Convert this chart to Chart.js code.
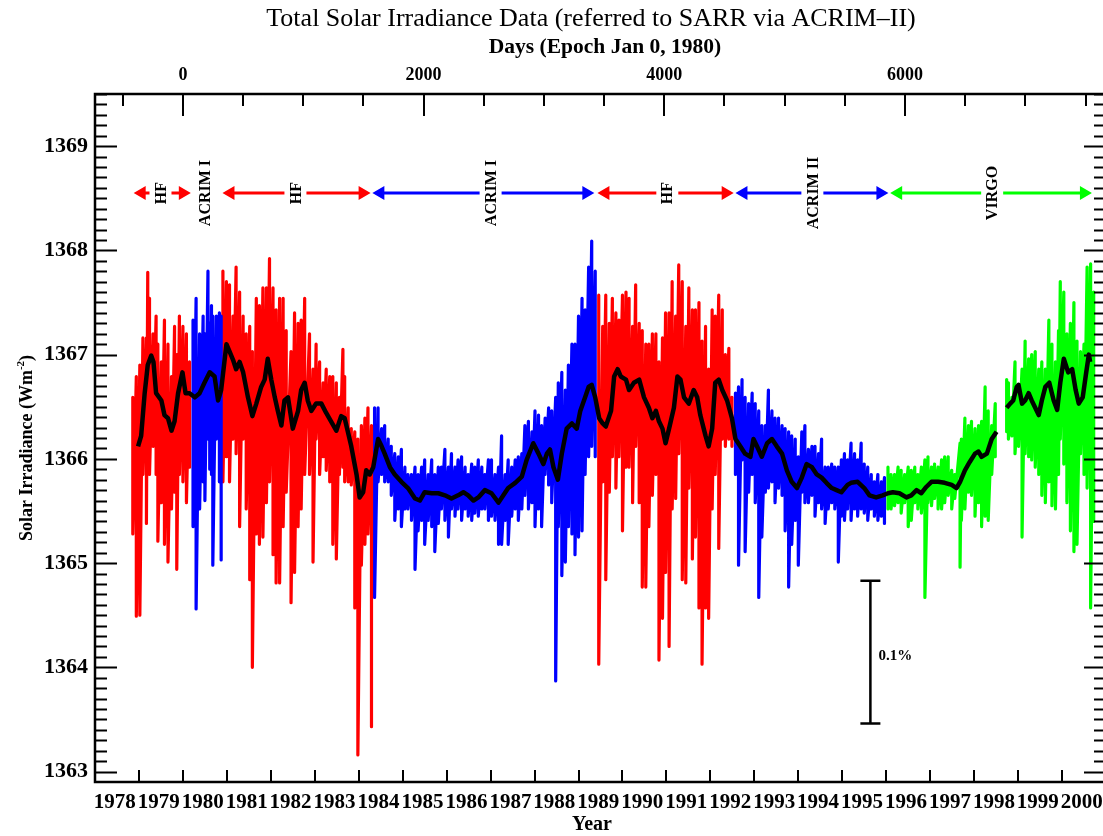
<!DOCTYPE html>
<html>
<head>
<meta charset="utf-8">
<script src="https://cdn.jsdelivr.net/npm/chart.js@4.4.1/dist/chart.umd.min.js"></script>
<style>
html, body { margin: 0; padding: 0; background: #fff; overflow: hidden; }
canvas { display: block; }
</style>
</head>
<body>
<canvas id="tsiChart" width="1120" height="836" style="width:1120px;height:836px"></canvas>
<script>
// tick labels
const yearTicks = [1978, 1979, 1980, 1981, 1982, 1983, 1984, 1985, 1986, 1987, 1988, 1989,
  1990, 1991, 1992, 1993, 1994, 1995, 1996, 1997, 1998, 1999, 2000];
const dayTicks = [0, 2000, 4000, 6000];
const irradianceTicks = [1363, 1364, 1365, 1366, 1367, 1368, 1369];

// which instrument each stretch of daily data comes from (start year of stretch)
const segmentStart = [1978.8, 1980.2, 1980.89, 1984.32, 1989.42, 1992.53, 1996.0];
const segmentInstrument = ["HF", "ACRIM I", "HF", "ACRIM I", "HF", "ACRIM II", "VIRGO"];

// daily values: upper / lower extent of the scatter
const obsYears = [
  1978.86, 1978.94, 1979.02, 1979.09, 1979.17, 1979.20, 1979.24, 1979.32, 1979.39, 1979.43,
  1979.51, 1979.58, 1979.66, 1979.74, 1979.81, 1979.86, 1979.92, 1980.00, 1980.08, 1980.15,
  1980.23, 1980.30, 1980.38, 1980.46, 1980.50, 1980.57, 1980.61, 1980.65, 1980.68, 1980.76,
  1980.83, 1980.87, 1980.91, 1980.99, 1981.06, 1981.14, 1981.21, 1981.29, 1981.37, 1981.44,
  1981.52, 1981.58, 1981.67, 1981.74, 1981.82, 1981.90, 1981.97, 1982.05, 1982.12, 1982.20,
  1982.28, 1982.35, 1982.46, 1982.54, 1982.62, 1982.69, 1982.77, 1982.88, 1982.96, 1983.03,
  1983.11, 1983.19, 1983.26, 1983.34, 1983.41, 1983.49, 1983.56, 1983.64, 1983.68, 1983.76,
  1983.83, 1983.91, 1983.98, 1984.06, 1984.14, 1984.21, 1984.29, 1984.36, 1984.44, 1984.52,
  1984.59, 1984.67, 1984.74, 1984.82, 1984.90, 1984.97, 1985.05, 1985.12, 1985.20, 1985.28,
  1985.35, 1985.43, 1985.50, 1985.58, 1985.66, 1985.73, 1985.81, 1985.88, 1985.96, 1986.04,
  1986.11, 1986.19, 1986.26, 1986.34, 1986.42, 1986.49, 1986.57, 1986.64, 1986.72, 1986.80,
  1986.87, 1986.95, 1987.02, 1987.10, 1987.18, 1987.25, 1987.33, 1987.40, 1987.48, 1987.56,
  1987.63, 1987.71, 1987.78, 1987.86, 1987.94, 1988.01, 1988.09, 1988.16, 1988.24, 1988.32,
  1988.39, 1988.48, 1988.54, 1988.62, 1988.70, 1988.77, 1988.85, 1988.92, 1989.00, 1989.08,
  1989.15, 1989.23, 1989.30, 1989.38, 1989.46, 1989.55, 1989.62, 1989.70, 1989.77, 1989.85,
  1989.92, 1990.00, 1990.08, 1990.15, 1990.23, 1990.30, 1990.38, 1990.45, 1990.53, 1990.60,
  1990.68, 1990.76, 1990.83, 1990.91, 1990.98, 1991.06, 1991.13, 1991.21, 1991.28, 1991.36,
  1991.44, 1991.51, 1991.59, 1991.66, 1991.74, 1991.81, 1991.89, 1991.96, 1992.04, 1992.11,
  1992.19, 1992.27, 1992.34, 1992.42, 1992.49, 1992.57, 1992.64, 1992.72, 1992.79, 1992.87,
  1992.95, 1993.02, 1993.10, 1993.17, 1993.25, 1993.32, 1993.40, 1993.47, 1993.55, 1993.63,
  1993.70, 1993.78, 1993.85, 1993.93, 1994.00, 1994.08, 1994.15, 1994.23, 1994.31, 1994.38,
  1994.46, 1994.53, 1994.61, 1994.68, 1994.76, 1994.83, 1994.91, 1994.98, 1995.05, 1995.12,
  1995.20, 1995.28, 1995.35, 1995.43, 1995.50, 1995.58, 1995.66, 1995.73, 1995.81, 1995.89,
  1995.96, 1996.04, 1996.11, 1996.19, 1996.27, 1996.34, 1996.42, 1996.50, 1996.57, 1996.65,
  1996.72, 1996.80, 1996.88, 1996.95, 1997.03, 1997.10, 1997.18, 1997.26, 1997.33, 1997.41,
  1997.49, 1997.56, 1997.68, 1997.71, 1997.79, 1997.87, 1997.94, 1998.02, 1998.10, 1998.17,
  1998.25, 1998.32, 1998.40, 1998.48, 1998.60, 1998.74, 1998.78, 1998.86, 1998.93, 1999.01,
  1999.09, 1999.16, 1999.24, 1999.31, 1999.39, 1999.47, 1999.54, 1999.62, 1999.70, 1999.77,
  1999.85, 1999.92, 1999.96, 2000.04, 2000.11, 2000.19, 2000.27, 2000.34, 2000.42, 2000.50,
  2000.57, 2000.65, 2000.72
];
const obsHigh = [
  1366.59, 1366.79, 1366.90, 1367.16, 1367.16, 1367.79, 1367.54, 1367.20, 1367.37, 1367.10,
  1366.93, 1367.33, 1367.10, 1366.79, 1367.27, 1367.00, 1367.37, 1367.27, 1367.20, 1366.93,
  1367.33, 1367.54, 1367.20, 1367.37, 1367.20, 1367.80, 1367.30, 1367.47, 1367.37, 1367.37,
  1367.40, 1367.37, 1367.80, 1367.70, 1367.67, 1367.37, 1367.84, 1367.60, 1367.37, 1367.20,
  1367.27, 1367.03, 1367.54, 1367.47, 1367.64, 1367.64, 1367.92, 1367.64, 1367.43, 1367.54,
  1367.54, 1367.23, 1367.03, 1367.40, 1367.30, 1367.33, 1367.54, 1367.20, 1366.86, 1367.10,
  1366.93, 1366.73, 1366.86, 1366.79, 1366.79, 1366.73, 1366.59, 1367.05, 1366.79, 1366.49,
  1366.29, 1366.26, 1366.19, 1366.32, 1366.39, 1366.49, 1366.32, 1366.49, 1366.49, 1366.29,
  1366.32, 1366.19, 1366.12, 1366.05, 1366.02, 1366.09, 1365.92, 1365.85, 1365.85, 1365.92,
  1365.85, 1365.92, 1365.99, 1365.85, 1365.99, 1365.85, 1365.92, 1365.92, 1366.09, 1365.92,
  1366.05, 1365.92, 1365.99, 1366.02, 1365.92, 1365.85, 1365.95, 1365.92, 1365.99, 1365.92,
  1365.85, 1365.99, 1365.99, 1365.85, 1365.92, 1366.22, 1365.85, 1365.99, 1365.92, 1365.99,
  1366.02, 1366.05, 1366.32, 1366.36, 1366.26, 1366.46, 1366.42, 1366.32, 1366.39, 1366.49,
  1366.46, 1366.59, 1366.73, 1366.83, 1366.66, 1366.90, 1367.10, 1367.10, 1367.37, 1367.54,
  1367.43, 1367.84, 1368.09, 1367.80, 1367.57, 1367.27, 1367.57, 1367.30, 1367.54, 1367.40,
  1367.33, 1367.57, 1367.60, 1367.54, 1367.27, 1367.67, 1367.30, 1367.23, 1367.10, 1367.10,
  1367.20, 1367.20, 1366.93, 1367.16, 1367.40, 1367.40, 1367.70, 1367.37, 1367.86, 1367.70,
  1367.27, 1367.64, 1367.43, 1367.43, 1367.50, 1367.13, 1367.27, 1366.86, 1367.43, 1367.37,
  1367.57, 1367.43, 1367.00, 1367.06, 1366.59, 1366.63, 1366.69, 1366.76, 1366.59, 1366.53,
  1366.63, 1366.53, 1366.46, 1366.32, 1366.32, 1366.66, 1366.46, 1366.39, 1366.39, 1366.32,
  1366.29, 1366.26, 1366.22, 1366.19, 1366.02, 1366.26, 1366.32, 1366.09, 1366.12, 1366.12,
  1366.05, 1366.19, 1365.92, 1365.92, 1365.95, 1365.92, 1365.92, 1365.99, 1366.05, 1365.99,
  1366.15, 1366.05, 1365.99, 1366.15, 1365.95, 1365.92, 1365.85, 1365.78, 1365.85, 1365.78,
  1365.82, 1365.92, 1365.85, 1365.85, 1365.92, 1365.89, 1365.85, 1365.92, 1365.89, 1365.92,
  1365.85, 1365.92, 1365.99, 1366.02, 1365.92, 1365.95, 1365.92, 1365.99, 1366.02, 1366.02,
  1365.89, 1365.85, 1366.15, 1366.19, 1366.39, 1366.32, 1366.36, 1366.29, 1366.32, 1366.36,
  1366.69, 1366.46, 1366.32, 1366.53, null, 1366.76, 1366.73, 1366.59, 1366.93, 1366.63,
  1366.86, 1367.13, 1366.96, 1367.00, 1367.03, 1366.86, 1366.93, 1366.86, 1367.33, 1367.10,
  1366.93, 1367.23, 1367.70, 1367.60, 1367.20, 1367.30, 1367.50, 1367.13, 1367.03, 1367.10,
  1367.84, 1367.87, 1367.60
];
const obsLow = [
  1365.28, 1364.49, 1364.50, 1365.85, 1365.38, 1365.95, 1365.85, 1366.12, 1365.85, 1365.21,
  1365.58, 1365.18, 1365.01, 1365.52, 1365.68, 1364.94, 1365.85, 1365.78, 1365.58, 1365.92,
  1365.35, 1364.56, 1365.52, 1365.78, 1365.60, 1366.19, 1365.90, 1365.85, 1364.98, 1366.19,
  1365.78, 1365.03, 1365.78, 1366.02, 1365.78, 1366.19, 1366.05, 1365.35, 1366.19, 1365.52,
  1364.84, 1364.00, 1365.28, 1365.18, 1365.25, 1365.58, 1365.78, 1365.08, 1364.81, 1364.81,
  1365.35, 1365.68, 1364.62, 1364.91, 1365.35, 1365.52, 1365.85, 1365.85, 1365.01, 1366.19,
  1365.85, 1366.02, 1365.89, 1365.78, 1365.18, 1365.04, 1365.85, 1365.92, 1365.78, 1365.78,
  1365.75, 1364.57, 1363.16, 1364.98, 1365.18, 1365.28, 1363.43, 1364.67, 1365.78, 1365.85,
  1365.78, 1365.78, 1365.65, 1365.41, 1365.52, 1365.35, 1365.52, 1365.52, 1365.41, 1364.94,
  1365.31, 1365.41, 1365.18, 1365.41, 1365.35, 1365.11, 1365.38, 1365.52, 1365.41, 1365.25,
  1365.52, 1365.45, 1365.52, 1365.41, 1365.52, 1365.45, 1365.41, 1365.48, 1365.45, 1365.52,
  1365.52, 1365.41, 1365.45, 1365.41, 1365.18, 1365.18, 1365.41, 1365.18, 1365.45, 1365.52,
  1365.41, 1365.52, 1365.65, 1365.52, 1365.58, 1365.35, 1365.52, 1365.35, 1365.85, 1365.75,
  1365.58, 1363.87, 1365.35, 1364.88, 1365.01, 1365.35, 1365.28, 1365.08, 1365.25, 1365.31,
  1365.85, 1366.02, 1366.12, 1366.02, 1364.03, 1365.78, 1364.84, 1365.68, 1366.02, 1365.72,
  1366.02, 1365.31, 1365.92, 1365.92, 1365.58, 1366.12, 1365.58, 1364.77, 1364.77, 1365.35,
  1365.65, 1365.85, 1364.07, 1364.47, 1364.91, 1364.20, 1365.52, 1365.62, 1366.05, 1364.84,
  1364.81, 1365.72, 1365.04, 1365.25, 1364.57, 1364.03, 1364.57, 1364.47, 1365.52, 1365.85,
  1365.14, 1366.19, 1366.12, 1366.19, 1366.12, 1365.85, 1364.98, 1365.99, 1365.11, 1365.68,
  1365.85, 1365.58, 1364.67, 1365.25, 1365.68, 1365.72, 1365.78, 1365.58, 1365.72, 1365.65,
  1365.31, 1364.77, 1365.18, 1365.41, 1364.98, 1365.68, 1365.58, 1365.58, 1365.65, 1365.45,
  1365.58, 1365.52, 1365.38, 1365.52, 1365.58, 1365.52, 1365.01, 1365.45, 1365.41, 1365.52,
  1365.41, 1365.52, 1365.45, 1365.52, 1365.48, 1365.41, 1365.52, 1365.45, 1365.41, 1365.45,
  1365.38, 1365.52, 1365.52, 1365.55, 1365.58, 1365.48, 1365.58, 1365.35, 1365.41, 1365.58,
  1365.52, 1365.48, 1364.67, 1365.58, 1365.55, 1365.62, 1365.52, 1365.52, 1365.58, 1365.65,
  1365.52, 1365.62, 1364.96, 1365.41, 1365.52, 1365.68, 1365.65, 1365.45, 1365.58, 1365.35,
  1365.45, 1365.41, 1365.85, 1366.02, null, 1366.26, 1366.19, 1366.22, 1366.05, 1366.12,
  1365.25, 1366.05, 1366.02, 1365.99, 1365.92, 1365.85, 1365.65, 1365.58, 1365.78, 1365.55,
  1365.52, 1365.85, 1366.19, 1365.95, 1365.58, 1365.31, 1365.11, 1365.18, 1366.05, 1365.85,
  1365.72, 1364.57, 1365.40
];

// running mean (black curve)
const meanYears = [
  1978.98, 1979.05, 1979.13, 1979.20, 1979.28, 1979.33, 1979.39, 1979.51, 1979.58, 1979.66,
  1979.74, 1979.81, 1979.89, 1979.99, 1980.06, 1980.15, 1980.27, 1980.38, 1980.49, 1980.61,
  1980.72, 1980.80, 1980.87, 1980.99, 1981.06, 1981.14, 1981.21, 1981.29, 1981.37, 1981.48,
  1981.58, 1981.67, 1981.78, 1981.86, 1981.93, 1982.01, 1982.09, 1982.16, 1982.24, 1982.31,
  1982.39, 1982.50, 1982.62, 1982.69, 1982.77, 1982.84, 1982.92, 1983.03, 1983.15, 1983.26,
  1983.37, 1983.49, 1983.60, 1983.68, 1983.83, 1983.95, 1984.02, 1984.10, 1984.17, 1984.25,
  1984.33, 1984.44, 1984.52, 1984.59, 1984.71, 1984.82, 1984.97, 1985.12, 1985.28, 1985.39,
  1985.50, 1985.66, 1985.81, 1985.96, 1986.11, 1986.26, 1986.38, 1986.49, 1986.61, 1986.72,
  1986.87, 1987.02, 1987.18, 1987.29, 1987.40, 1987.56, 1987.71, 1987.82, 1987.97, 1988.09,
  1988.20, 1988.28, 1988.35, 1988.43, 1988.53, 1988.62, 1988.73, 1988.85, 1988.96, 1989.04,
  1989.15, 1989.23, 1989.30, 1989.38, 1989.47, 1989.55, 1989.62, 1989.74, 1989.81, 1989.89,
  1989.96, 1990.08, 1990.15, 1990.26, 1990.38, 1990.49, 1990.60, 1990.68, 1990.76, 1990.83,
  1990.91, 1990.98, 1991.06, 1991.17, 1991.25, 1991.32, 1991.40, 1991.51, 1991.62, 1991.70,
  1991.77, 1991.89, 1991.96, 1992.04, 1992.11, 1992.19, 1992.27, 1992.38, 1992.49, 1992.57,
  1992.68, 1992.79, 1992.91, 1992.98, 1993.06, 1993.17, 1993.29, 1993.40, 1993.51, 1993.63,
  1993.74, 1993.85, 1993.97, 1994.08, 1994.19, 1994.31, 1994.42, 1994.53, 1994.64, 1994.76,
  1994.87, 1994.98, 1995.12, 1995.20, 1995.35, 1995.50, 1995.62, 1995.77, 1995.92, 1996.04,
  1996.15, 1996.30, 1996.46, 1996.57, 1996.69, 1996.80, 1996.91, 1997.03, 1997.18, 1997.33,
  1997.49, 1997.60, 1997.68, 1997.79, 1997.90, 1998.02, 1998.10, 1998.17, 1998.29, 1998.40,
  1998.51, 1998.62, 1998.74, 1998.82, 1998.89, 1998.97, 1999.01, 1999.09, 1999.16, 1999.24,
  1999.31, 1999.39, 1999.47, 1999.54, 1999.62, 1999.71, 1999.81, 1999.89, 1999.96, 2000.04,
  2000.14, 2000.23, 2000.31, 2000.38, 2000.47, 2000.55, 2000.61, 2000.64
];
const meanValues = [
  1366.12, 1366.22, 1366.63, 1366.90, 1366.99, 1366.93, 1366.63, 1366.56, 1366.42, 1366.39,
  1366.27, 1366.36, 1366.63, 1366.83, 1366.63, 1366.63, 1366.59, 1366.63, 1366.73, 1366.83,
  1366.79, 1366.56, 1366.66, 1367.10, 1367.03, 1366.95, 1366.86, 1366.93, 1366.83, 1366.59,
  1366.41, 1366.53, 1366.69, 1366.76, 1366.96, 1366.76, 1366.59, 1366.46, 1366.32, 1366.56,
  1366.59, 1366.29, 1366.46, 1366.66, 1366.73, 1366.56, 1366.46, 1366.53, 1366.53, 1366.44,
  1366.36, 1366.27, 1366.41, 1366.39, 1366.12, 1365.85, 1365.63, 1365.68, 1365.89, 1365.85,
  1365.92, 1366.19, 1366.12, 1366.05, 1365.92, 1365.85, 1365.78, 1365.72, 1365.62, 1365.60,
  1365.68, 1365.67, 1365.67, 1365.65, 1365.62, 1365.65, 1365.68, 1365.65, 1365.60, 1365.63,
  1365.70, 1365.67, 1365.58, 1365.65, 1365.72, 1365.77, 1365.83, 1365.99, 1366.15, 1366.05,
  1365.95, 1366.05, 1366.09, 1365.92, 1365.80, 1366.05, 1366.29, 1366.34, 1366.29, 1366.46,
  1366.59, 1366.69, 1366.71, 1366.59, 1366.39, 1366.34, 1366.31, 1366.46, 1366.79, 1366.86,
  1366.79, 1366.76, 1366.66, 1366.73, 1366.76, 1366.59, 1366.49, 1366.39, 1366.46, 1366.36,
  1366.29, 1366.15, 1366.29, 1366.49, 1366.79, 1366.76, 1366.59, 1366.53, 1366.66, 1366.59,
  1366.42, 1366.22, 1366.12, 1366.29, 1366.73, 1366.76, 1366.66, 1366.56, 1366.39, 1366.19,
  1366.12, 1366.05, 1366.02, 1366.19, 1366.12, 1366.02, 1366.15, 1366.19, 1366.12, 1366.05,
  1365.89, 1365.78, 1365.72, 1365.82, 1365.95, 1365.92, 1365.85, 1365.82, 1365.77, 1365.72,
  1365.70, 1365.68, 1365.75, 1365.77, 1365.78, 1365.72, 1365.65, 1365.63, 1365.65, 1365.67,
  1365.68, 1365.67, 1365.63, 1365.65, 1365.70, 1365.67, 1365.73, 1365.78, 1365.78, 1365.77,
  1365.75, 1365.72, 1365.78, 1365.89, 1365.97, 1366.05, 1366.07, 1366.02, 1366.05, 1366.19,
  1366.26, null, 1366.49, 1366.53, 1366.56, 1366.69, 1366.71, 1366.53, 1366.56, 1366.63,
  1366.56, 1366.49, 1366.42, 1366.56, 1366.69, 1366.73, 1366.56, 1366.47, 1366.73, 1366.96,
  1366.83, 1366.86, 1366.66, 1366.53, 1366.59, 1366.83, 1367.00, 1366.93
];

// instrument coverage arrows along the top
const arrowLabels = ["HF", "ACRIM I", "HF", "ACRIM I", "HF", "ACRIM II", "VIRGO"];
const arrowFrom = [1978.88, null, 1980.90, 1984.31, 1989.43, 1992.57, 1996.09];
const arrowTo = [1980.18, null, 1984.27, 1989.36, 1992.53, 1996.05, 2000.68];
const arrowLabelAt = [1979.49, 1980.50, 1982.56, 1987.0, 1991.02, 1994.32, 1998.41];
const arrowLevel = 1368.55;

// 0.1 % scale bar
const barYear = 1995.64;
const barLow = 1363.46;
const barHigh = 1364.83;

const instrumentColor = { "HF": "#ff0000", "ACRIM I": "#0000ff", "ACRIM II": "#0000ff", "VIRGO": "#00ff00" };
const SERIF = '"Liberation Serif", "Times New Roman", serif';

function segmentOf(yr) {
  let k = 0;
  for (let i = 0; i < segmentStart.length; i++) {
    if (yr >= segmentStart[i]) k = i;
  }
  return k;
}

// split daily data into single-instrument runs, each drawn as a high/low zigzag
const runs = [];
let current = null;
obsYears.forEach((yr, i) => {
  if (obsHigh[i] === null) { current = null; return; }
  const seg = segmentOf(yr);
  if (!current || current.seg !== seg) {
    current = { seg: seg, pts: [] };
    runs.push(current);
  }
  current.pts.push({ x: yr, y: obsHigh[i] }, { x: yr, y: obsLow[i] });
});

const datasets = runs.map(r => ({
  data: r.pts,
  borderColor: instrumentColor[segmentInstrument[r.seg]],
  borderWidth: 3.2,
  borderJoinStyle: "round",
  pointRadius: 0,
  tension: 0,
  order: 2,
  xAxisID: "x",
  yAxisID: "y"
}));

// black curve drawn last (lowest order is on top)
datasets.push({
  data: meanYears.map((x, i) => ({ x: x, y: meanValues[i] })),
  borderColor: "#000",
  borderWidth: 4.5,
  borderJoinStyle: "round",
  pointRadius: 0,
  tension: 0,
  spanGaps: false,
  order: 1,
  xAxisID: "x",
  yAxisID: "y"
});

// frame, inward ticks, titles, coverage arrows, scale bar
const decorations = {
  id: "decorations",
  afterDraw(chart) {
    const { ctx, chartArea: a, scales } = chart;
    const x = scales.x, y = scales.y, xd = scales.xDays;
    ctx.save();
    ctx.strokeStyle = "#000";
    ctx.fillStyle = "#000";

    // ticks
    ctx.lineWidth = 2;
    ctx.beginPath();
    for (let i = 13630; i <= 13695; i++) {
      const py = Math.round(y.getPixelForValue(i / 10)) + 0.5;
      const len = i % 10 === 0 ? 22 : 12;
      ctx.moveTo(a.left, py); ctx.lineTo(a.left + len, py);
      ctx.moveTo(a.right, py); ctx.lineTo(a.right - len, py);
    }
    yearTicks.forEach(yr => {
      const px = Math.round(x.getPixelForValue(yr + 1));
      ctx.moveTo(px, a.bottom); ctx.lineTo(px, a.bottom - 12);
    });
    for (let d = -500; d <= 7500; d += 500) {
      const px = Math.round(xd.getPixelForValue(d));
      const len = d % 2000 === 0 ? 22 : 12;
      ctx.moveTo(px, a.top); ctx.lineTo(px, a.top + len);
    }
    ctx.stroke();

    ctx.lineWidth = 2.5;
    ctx.strokeRect(a.left, a.top, a.right - a.left, a.bottom - a.top);

    // titles
    ctx.textAlign = "center";
    ctx.textBaseline = "middle";
    ctx.font = "26px " + SERIF;
    ctx.fillText("Total Solar Irradiance Data (referred to SARR via ACRIM\u2013II)", 591, 19);
    ctx.font = "bold 21.5px " + SERIF;
    ctx.fillText("Days (Epoch Jan 0, 1980)", 605, 47);
    ctx.font = "bold 20px " + SERIF;
    ctx.fillText("Year", 592, 825);

    // y title with superscript
    ctx.save();
    ctx.translate(27, 448);
    ctx.rotate(-Math.PI / 2);
    const mainFont = "bold 18px " + SERIF, supFont = "bold 11px " + SERIF;
    ctx.font = mainFont;
    const w1 = ctx.measureText("Solar Irradiance (Wm").width;
    const w3 = ctx.measureText(")").width;
    ctx.font = supFont;
    const w2 = ctx.measureText("-2").width;
    let sx = -(w1 + w2 + w3) / 2;
    ctx.textAlign = "left";
    ctx.font = mainFont; ctx.fillText("Solar Irradiance (Wm", sx, 0); sx += w1;
    ctx.font = supFont; ctx.fillText("-2", sx, -6); sx += w2;
    ctx.font = mainFont; ctx.fillText(")", sx, 0);
    ctx.restore();

    // coverage arrows
    const ay = y.getPixelForValue(arrowLevel);
    const head = 12, half = 7, gap = 11;
    arrowLabels.forEach((lab, i) => {
      const cx = x.getPixelForValue(arrowLabelAt[i]);
      if (arrowFrom[i] !== null) {
        const x0 = x.getPixelForValue(arrowFrom[i]);
        const x1 = x.getPixelForValue(arrowTo[i]);
        ctx.strokeStyle = instrumentColor[lab];
        ctx.fillStyle = instrumentColor[lab];
        ctx.lineWidth = 3;
        ctx.beginPath();
        ctx.moveTo(x0 + head - 1, ay); ctx.lineTo(cx - gap, ay);
        ctx.moveTo(cx + gap, ay); ctx.lineTo(x1 - head + 1, ay);
        ctx.stroke();
        ctx.beginPath();
        ctx.moveTo(x0, ay); ctx.lineTo(x0 + head, ay - half); ctx.lineTo(x0 + head, ay + half); ctx.closePath();
        ctx.moveTo(x1, ay); ctx.lineTo(x1 - head, ay - half); ctx.lineTo(x1 - head, ay + half); ctx.closePath();
        ctx.fill();
      }
      ctx.save();
      ctx.fillStyle = "#000";
      ctx.translate(cx, ay);
      ctx.rotate(-Math.PI / 2);
      ctx.font = "bold 16px " + SERIF;
      ctx.textAlign = "center";
      ctx.textBaseline = "middle";
      ctx.fillText(lab, 0, 1);
      ctx.restore();
    });

    // 0.1 % bar
    const bx = x.getPixelForValue(barYear);
    const by0 = y.getPixelForValue(barLow), by1 = y.getPixelForValue(barHigh);
    ctx.strokeStyle = "#000";
    ctx.fillStyle = "#000";
    ctx.lineWidth = 2.5;
    ctx.beginPath();
    ctx.moveTo(bx, by0); ctx.lineTo(bx, by1);
    ctx.moveTo(bx - 10, by0); ctx.lineTo(bx + 10, by0);
    ctx.moveTo(bx - 10, by1); ctx.lineTo(bx + 10, by1);
    ctx.stroke();
    ctx.font = "bold 15px " + SERIF;
    ctx.textAlign = "left";
    ctx.textBaseline = "middle";
    ctx.fillText("0.1%", bx + 8, (by0 + by1) / 2 + 4);

    ctx.restore();
  }
};

Chart.defaults.color = "#000";

new Chart(document.getElementById("tsiChart").getContext("2d"), {
  type: "line",
  data: { datasets: datasets },
  options: {
    responsive: false,
    animation: false,
    devicePixelRatio: 1,
    parsing: false,
    normalized: true,
    layout: { padding: 0 },
    plugins: { legend: { display: false }, tooltip: { enabled: false }, title: { display: false } },
    scales: {
      x: {
        type: "linear",
        position: "bottom",
        min: 1978,
        max: 2001,
        afterBuildTicks: s => { s.ticks = yearTicks.map(v => ({ value: v + 0.45 })); },
        afterFit: s => { s.height = 54; },
        ticks: {
          autoSkip: false,
          maxRotation: 0,
          padding: 8,
          callback: v => String(Math.round(v - 0.45)),
          font: { family: SERIF, size: 21, weight: "bold" }
        },
        grid: { display: false, drawTicks: false },
        border: { display: false }
      },
      xDays: {
        type: "linear",
        position: "top",
        min: -730.5,
        max: 7670.25,
        afterBuildTicks: s => { s.ticks = dayTicks.map(v => ({ value: v })); },
        afterFit: s => { s.height = 94; },
        ticks: {
          autoSkip: false,
          maxRotation: 0,
          padding: 8,
          callback: v => String(v),
          font: { family: SERIF, size: 18, weight: "bold" }
        },
        grid: { display: false, drawTicks: false },
        border: { display: false }
      },
      y: {
        type: "linear",
        position: "left",
        min: 1362.9,
        max: 1369.5,
        afterBuildTicks: s => { s.ticks = irradianceTicks.map(v => ({ value: v })); },
        afterFit: s => { s.width = 95; },
        ticks: {
          padding: 7,
          callback: v => String(v),
          font: { family: SERIF, size: 22, weight: "bold" }
        },
        grid: { display: false, drawTicks: false },
        border: { display: false }
      },
      yRight: {
        type: "linear",
        position: "right",
        min: 1362.9,
        max: 1369.5,
        afterFit: s => { s.width = 14; },
        ticks: { display: false },
        grid: { display: false, drawTicks: false },
        border: { display: false }
      }
    }
  },
  plugins: [decorations]
});
</script>
</body>
</html>
